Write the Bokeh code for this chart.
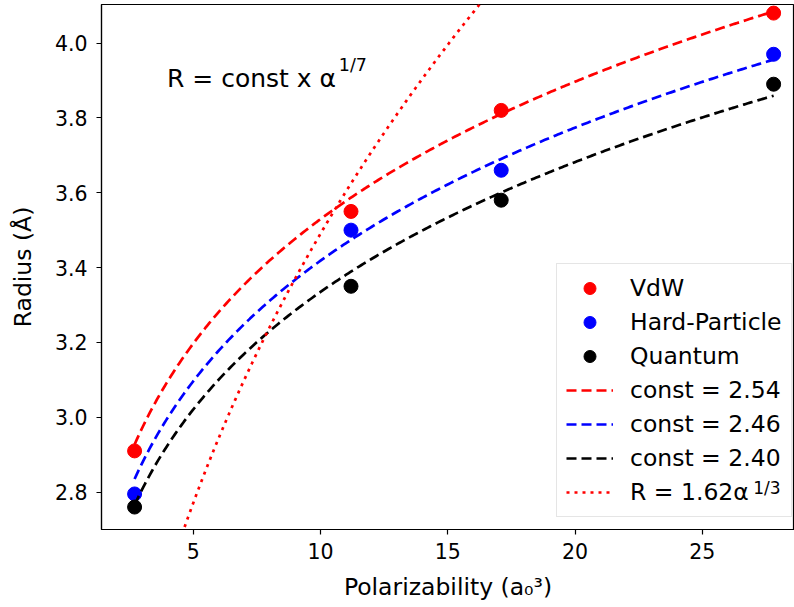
import numpy as np
from bokeh.plotting import figure
from bokeh.models import Range1d, Legend, LegendItem, Label, FixedTicker, PrintfTickFormatter
from bokeh.embed import file_html
from bokeh.resources import INLINE

# ---- data ----
alpha = [2.7, 11.2, 17.1, 27.8]                 # polarizability (a0^3)
r_vdw = [2.91, 3.55, 3.82, 4.08]
r_hard = [2.795, 3.50, 3.66, 3.97]
r_quantum = [2.76, 3.35, 3.58, 3.89]
fit_consts = [2.54, 2.46, 2.40]                  # R = const * alpha^(1/7)
fit_colors = ["#ff0000", "#0000ff", "#000000"]
cube_const = 1.62                                 # R = 1.62 alpha^(1/3)
x_ticks = [5, 10, 15, 20, 25]
y_ticks = [2.8, 3.0, 3.2, 3.4, 3.6, 3.8, 4.0]

FONT = "DejaVu Sans"

p = figure(width=794, height=607, output_backend="svg", toolbar_location=None,
           x_range=Range1d(1.40, 28.62), y_range=Range1d(2.70, 4.103),
           min_border_left=101, min_border_right=0, min_border_top=4, min_border_bottom=78)
p.xgrid.visible = False
p.ygrid.visible = False
p.outline_line_color = "black"
p.outline_line_width = 1.2
p.background_fill_color = "white"
p.border_fill_color = "white"

for ax in (p.xaxis[0], p.yaxis[0]):
    ax.axis_line_width = 1.2
    ax.axis_line_color = "black"
    ax.major_tick_in = 0
    ax.major_tick_out = 5
    ax.major_tick_line_width = 1.2
    ax.minor_tick_line_color = None
    ax.major_label_text_font = FONT
    ax.major_label_text_font_size = "20.5px"
    ax.major_label_text_color = "black"
    ax.axis_label_text_font = FONT
    ax.axis_label_text_font_size = "23.5px"
    ax.axis_label_text_font_style = "normal"
    ax.axis_label_text_color = "black"

p.xaxis.ticker = FixedTicker(ticks=x_ticks)
p.yaxis.ticker = FixedTicker(ticks=y_ticks)
p.yaxis.formatter = PrintfTickFormatter(format="%.1f")
p.xaxis.major_label_standoff = 8
p.yaxis.major_label_standoff = 9
p.xaxis.axis_label = "Polarizability (a₀³)"
p.yaxis.axis_label = "Radius (Å)"
p.xaxis.axis_label_standoff = 11
p.yaxis.axis_label_standoff = 15

# scatter points first (lines drawn on top, as in the reference)
s1 = p.scatter(alpha, r_vdw, size=14, color="#ff0000")
s2 = p.scatter(alpha, r_hard, size=14, color="#0000ff")
s3 = p.scatter(alpha, r_quantum, size=14, color="#000000")

xs = np.linspace(min(alpha), max(alpha), 300)
fit_renderers = []
for c, col in zip(fit_consts, fit_colors):
    fit_renderers.append(p.line(xs, c * xs ** (1.0 / 7.0), line_color=col,
                                line_width=2.7, line_dash="10 5"))
dot = p.line(xs, cube_const * xs ** (1.0 / 3.0), line_color="#ff0000",
             line_width=2.7, line_dash="3 5")

items = [
    LegendItem(label="VdW", renderers=[s1]),
    LegendItem(label="Hard-Particle", renderers=[s2]),
    LegendItem(label="Quantum", renderers=[s3]),
] + [LegendItem(label=f"const = {c:.2f}", renderers=[r]) for c, r in zip(fit_consts, fit_renderers)] + [
    LegendItem(label=f"R = {cube_const:.2f}α", renderers=[dot]),
]
legend = Legend(items=items, location=(455, 12))
legend.label_text_font = FONT
legend.label_text_font_size = "23.5px"
legend.label_text_color = "black"
legend.glyph_width = 47
legend.glyph_height = 30
legend.label_height = 30
legend.label_standoff = 17
legend.spacing = 4
legend.padding = 9
legend.margin = 0
legend.border_line_color = "#cccccc"
legend.border_line_width = 1
legend.background_fill_alpha = 0.0
p.add_layout(legend)

# superscript of the last legend label
p.add_layout(Label(x=27.0, y=2.812, text="1/3", text_font=FONT,
                   text_font_size="17px", text_baseline="alphabetic", text_color="black"))

# annotation R = const x alpha^(1/7)
p.add_layout(Label(x=3.97, y=3.905, text="R = const x α", text_font=FONT,
                   text_font_size="25px", text_baseline="alphabetic", text_color="black"))
p.add_layout(Label(x=10.72, y=3.940, text="1/7", text_font=FONT,
                   text_font_size="17.5px", text_baseline="alphabetic", text_color="black"))

open("out.html", "w").write(file_html(p, INLINE))
